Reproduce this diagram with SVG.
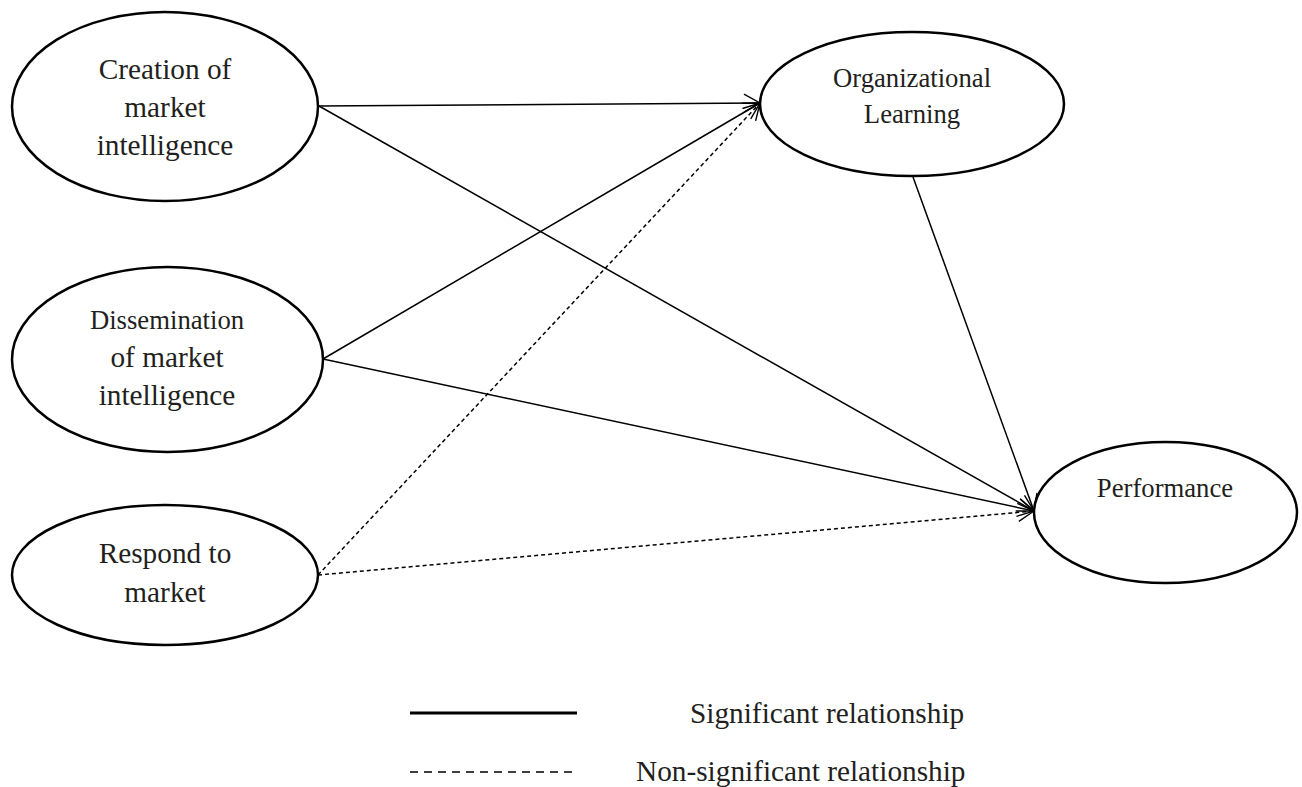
<svg xmlns="http://www.w3.org/2000/svg" width="1302" height="787" viewBox="0 0 1302 787">
<style>
.node ellipse{fill:#fff;stroke:#000;stroke-width:2.5}
text{font-family:"Liberation Serif","Times New Roman",serif;fill:#231f20;text-anchor:middle}
.big{font-size:29.3px}
.small{font-size:26.7px}
.leg{font-size:29.3px;text-anchor:start}
.c{fill:none;stroke:#000;stroke-width:1.5}
.d{stroke-dasharray:4 3}
</style>
<defs>
<marker id="arr" markerUnits="userSpaceOnUse" markerWidth="20" markerHeight="20" viewBox="0 0 20 20" refX="18" refY="10" orient="auto">
<path d="M2,1 L18,10 L2,19" fill="none" stroke="#000" stroke-width="1.4"/>
</marker>
</defs>
<rect width="1302" height="787" fill="#fff"/>
<g id="connectors">
<line class="c" x1="319" y1="106" x2="760" y2="103" marker-end="url(#arr)"/>
<line class="c" x1="319" y1="106" x2="1034" y2="511" marker-end="url(#arr)"/>
<line class="c" x1="323" y1="359" x2="760" y2="103" marker-end="url(#arr)"/>
<line class="c" x1="323" y1="359" x2="1034" y2="511" marker-end="url(#arr)"/>
<line class="c d" x1="318" y1="575" x2="760" y2="103" marker-end="url(#arr)"/>
<line class="c d" x1="318" y1="575" x2="1034" y2="511" marker-end="url(#arr)"/>
<line class="c" x1="913" y1="177" x2="1034" y2="511" marker-end="url(#arr)"/>
</g>
<g id="creation" class="node">
<ellipse cx="165" cy="106.5" rx="153" ry="94.5"/>
<text class="big" x="165" y="79">Creation of</text>
<text class="big" x="165" y="117">market</text>
<text class="big" x="165" y="155">intelligence</text>
</g>
<g id="dissemination" class="node">
<ellipse cx="167.5" cy="359.5" rx="155.5" ry="92.5"/>
<text class="small" x="167" y="329">Dissemination</text>
<text class="big" x="167" y="367">of market</text>
<text class="big" x="167" y="405">intelligence</text>
</g>
<g id="respond" class="node">
<ellipse cx="165" cy="575" rx="153" ry="70"/>
<text class="big" x="165" y="563">Respond to</text>
<text class="big" x="165" y="602">market</text>
</g>
<g id="learning" class="node">
<ellipse cx="912" cy="104" rx="152" ry="72"/>
<text class="small" x="912" y="87">Organizational</text>
<text class="small" x="912" y="123">Learning</text>
</g>
<g id="performance" class="node">
<ellipse cx="1165.5" cy="512.5" rx="131.5" ry="70.5"/>
<text class="small" x="1165" y="497">Performance</text>
</g>
<g id="legend">
<line x1="410" y1="713" x2="577" y2="713" stroke="#000" stroke-width="3"/>
<line x1="410" y1="772" x2="577" y2="772" stroke="#000" stroke-width="1.5" stroke-dasharray="8 6"/>
<text class="leg" x="690" y="723">Significant relationship</text>
<text class="leg" x="636" y="781">Non-significant relationship</text>
</g>
</svg>
